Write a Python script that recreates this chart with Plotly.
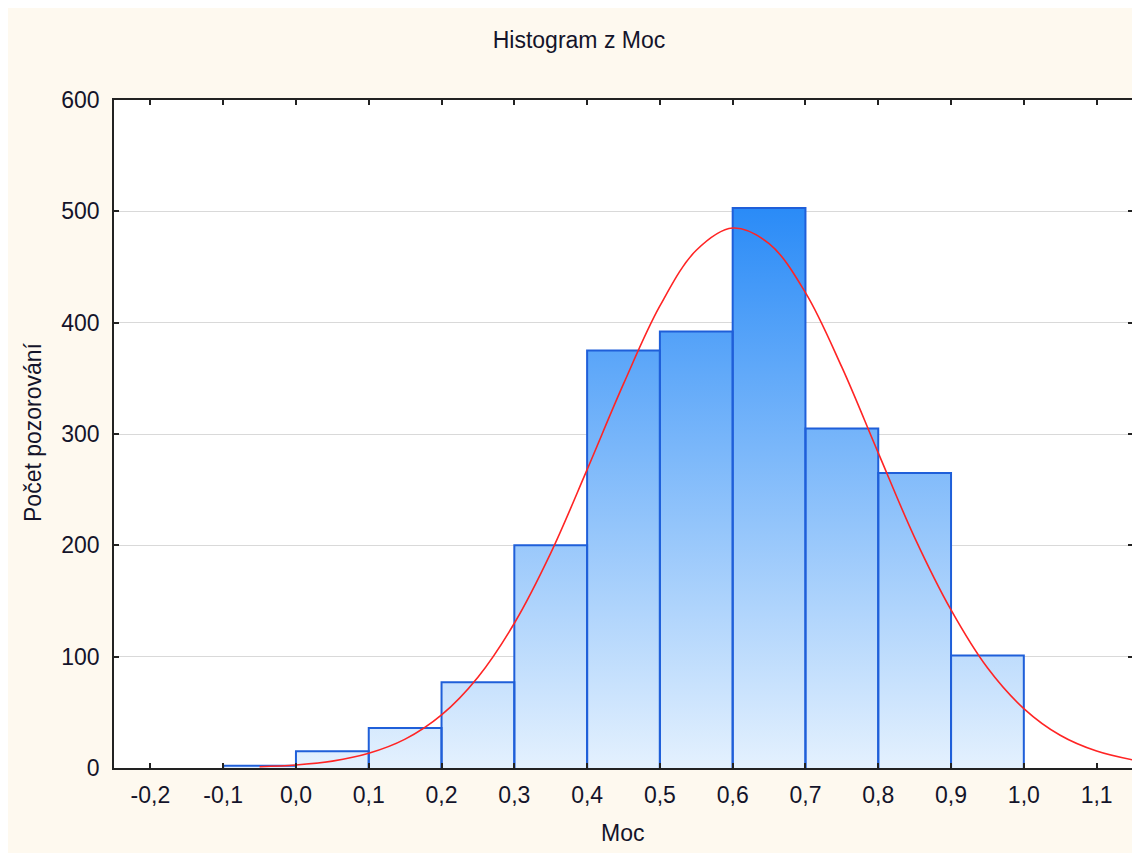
import plotly.graph_objects as go

# Histogram bins (left edges), bin width and counts
bin_left = [-0.1, 0.0, 0.1, 0.2, 0.3, 0.4, 0.5, 0.6, 0.7, 0.8, 0.9]
bin_width = 0.1
counts = [2, 15, 36, 77, 200, 375, 392, 503, 305, 265, 101]

# Fitted normal curve
curve_x = [-0.05, 0.0, 0.05, 0.1, 0.15, 0.2, 0.25, 0.3, 0.35, 0.4, 0.45, 0.5, 0.55,
           0.6, 0.65, 0.7, 0.75, 0.8, 0.85, 0.9, 0.95, 1.0, 1.05, 1.1, 1.15]
curve_y = [1.1, 2.7, 6.2, 13.2, 25.9, 47.7, 81.6, 130, 193, 268, 345, 415, 465,
           485, 471, 427, 360, 283, 207, 142, 90, 53.4, 29.4, 15.2, 7.2]

x_tick_vals = [-0.2, -0.1, 0.0, 0.1, 0.2, 0.3, 0.4, 0.5, 0.6, 0.7, 0.8, 0.9, 1.0, 1.1]
x_tick_text = ["-0,2", "-0,1", "0,0", "0,1", "0,2", "0,3", "0,4", "0,5", "0,6",
               "0,7", "0,8", "0,9", "1,0", "1,1"]
y_tick_vals = [0, 100, 200, 300, 400, 500, 600]

FONT = "Liberation Sans, Arial, sans-serif"
TXT = "#14142a"
CREAM = "#fef9ef"
BAR_LINE = "#1f5fd9"

edges = bin_left + [bin_left[-1] + bin_width]

# outline of every bar (left, top, right side), separated by gaps
out_x, out_y = [], []
for left, c in zip(bin_left, counts):
    out_x += [left, left, left + bin_width, left + bin_width, None]
    out_y += [0, c, c, 0, None]

fig = go.Figure()

# gradient fill under the histogram
fig.add_trace(go.Scatter(
    x=edges, y=counts + [counts[-1]], mode="lines", line_shape="hv",
    line=dict(width=0), fill="tozeroy",
    fillgradient=dict(type="vertical", colorscale=[[0, "#e4f1fe"], [1, "#2a8bf7"]],
                      start=0, stop=max(counts)),
    hoverinfo="skip", showlegend=False,
))

fig.add_trace(go.Scatter(
    x=out_x, y=out_y, mode="lines", connectgaps=False,
    line=dict(color=BAR_LINE, width=2), hoverinfo="skip", showlegend=False,
))

fig.add_trace(go.Scatter(
    x=curve_x, y=curve_y, mode="lines", line_shape="spline",
    line=dict(color="#ff2424", width=1.6), showlegend=False,
))

fig.update_layout(
    width=1140, height=853,
    margin=dict(l=106, r=15, t=92, b=93),
    paper_bgcolor=CREAM, plot_bgcolor="white",
    font=dict(family=FONT, size=23, color=TXT),
    title=dict(text="Histogram z Moc", x=571 / 1140, xanchor="center",
               y=1 - 32 / 853, yanchor="middle", font=dict(size=23, color=TXT)),
    showlegend=False,
    annotations=[
        dict(text="Počet pozorování", xref="paper", yref="paper",
             x=-81 / 1019, y=336 / 668, textangle=-90, showarrow=False,
             xanchor="center", yanchor="middle", font=dict(size=23, color=TXT)),
        dict(text="Moc", xref="paper", yref="paper",
             x=508 / 1019, y=-65 / 668, showarrow=False,
             xanchor="center", yanchor="middle", font=dict(size=23, color=TXT)),
    ],
)

fig.update_xaxes(
    range=[-0.25, 1.15], tickvals=x_tick_vals, ticktext=x_tick_text,
    ticks="inside", ticklen=5, tickwidth=1.5, tickcolor="#222",
    showline=True, linecolor="#222", linewidth=1.5, mirror="allticks",
    showgrid=False, zeroline=False, ticklabelstandoff=6,
)
fig.update_yaxes(
    range=[0, 600], tickvals=y_tick_vals,
    ticks="inside", ticklen=5, tickwidth=1.5, tickcolor="#222",
    showline=True, linecolor="#222", linewidth=1.5, mirror="allticks",
    showgrid=True, gridcolor="#d9d9d9", gridwidth=1, zeroline=False,
    ticklabelstandoff=8,
)

fig.write_html("out.html")
